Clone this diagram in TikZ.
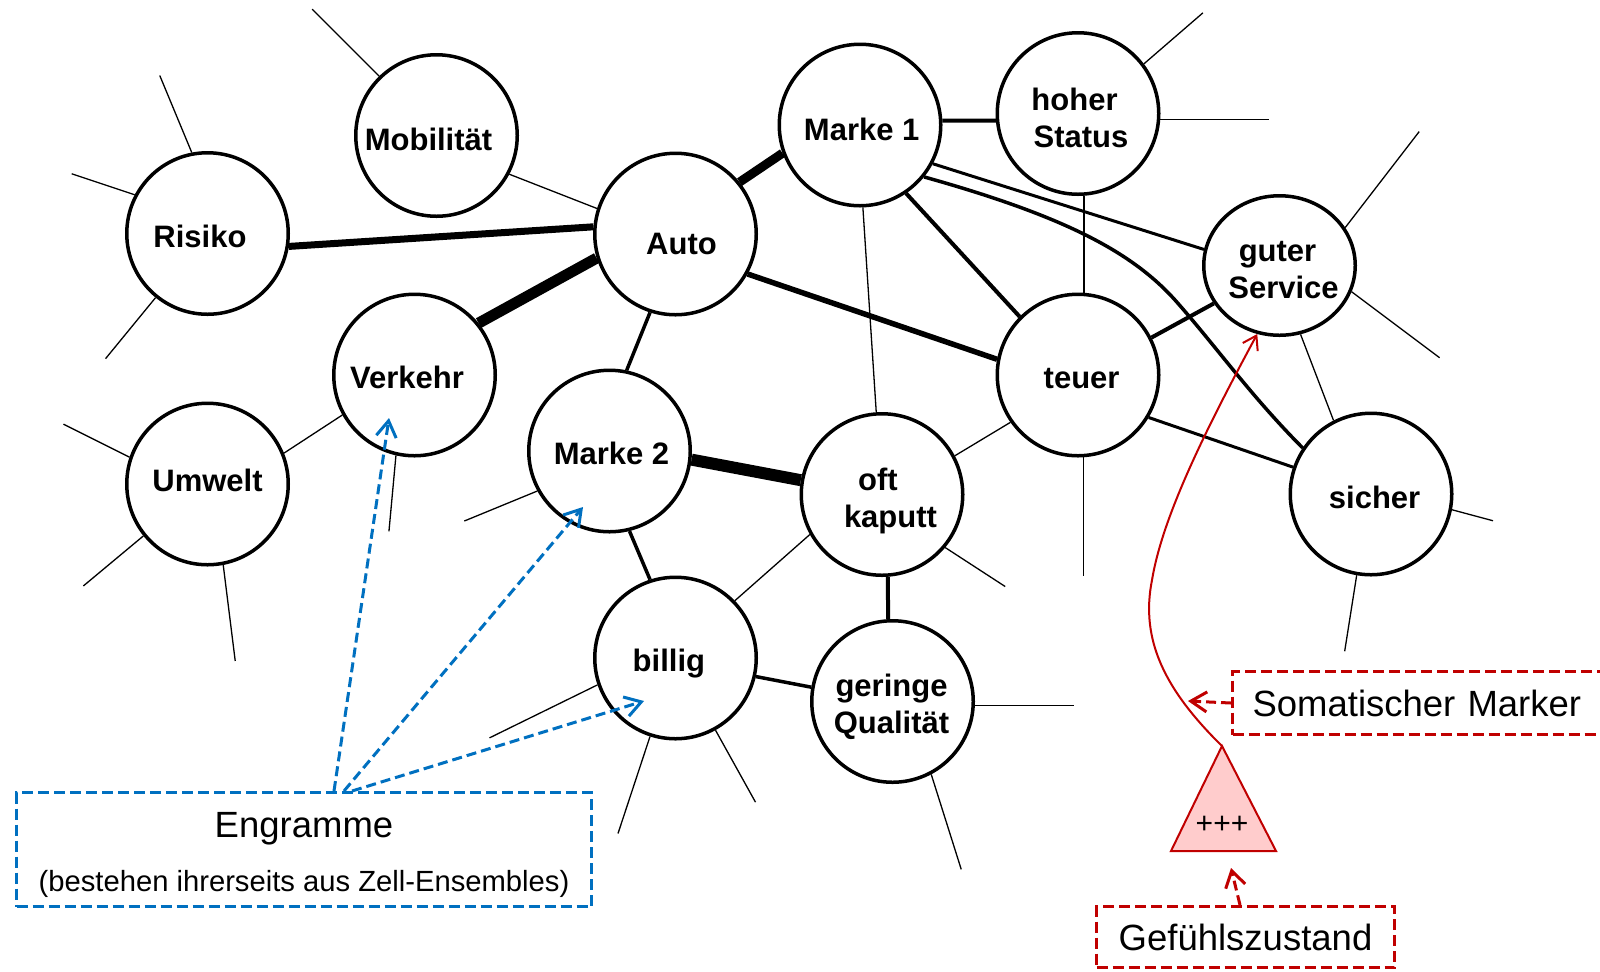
\documentclass[tikz,border=0pt]{standalone}
\usepackage{fontspec}
\setmainfont{Liberation Sans}
\usetikzlibrary{arrows.meta,shapes.geometric}
\newdimen\pu \pu=0.5pt
% label set on a zero-size box: #1 horizontal shift (half), #2 baseline below centre
\newcommand\ntext[3]{\raisebox{-#2}[0pt][0pt]{\makebox[0pt]{\hspace*{#1}\hspace*{#1}#3}}}
\definecolor{engblue}{HTML}{0070C0}
\definecolor{smred}{HTML}{C00000}
\definecolor{smpink}{HTML}{FFCCCC}
\begin{document}
\begin{tikzpicture}[x=0.5pt,y=-0.5pt,
  concept/.style={circle, draw, line width=1.75pt, fill=white, minimum size=80.75pt,
    inner sep=0pt, font=\fontsize{15.5}{18.5}\selectfont\bfseries},
  conceptell/.style={ellipse, draw, line width=1.75pt, fill=white, minimum width=75.75pt,
    minimum height=69.75pt, inner sep=0pt, font=\fontsize{15.5}{18.5}\selectfont\bfseries},
  conn/.style={line width=#1},
  stub/.style={line width=0.65pt},
  engbox/.style={draw=engblue, line width=1.5pt, dash pattern=on 5.5pt off 2.5pt, inner sep=0pt},
  smbox/.style={draw=smred, line width=1.5pt, dash pattern=on 5.5pt off 2.5pt, inner sep=0pt,
    font=\fontsize{18.25}{22}\selectfont},
  engarrow/.style={draw=engblue, line width=1.5pt, dash pattern=on 5pt off 2.5pt,
    -{Straight Barb[length=8pt,width=10pt]}},
  smarrow/.style={draw=smred, line width=1.5pt, dash pattern=on 5pt off 2.5pt,
    -{Straight Barb[length=8pt,width=10pt]}},
  plaintext/.style={inner sep=0pt, anchor=base}
]
\useasboundingbox (0,0) rectangle (1600,971);
\clip (0,0) rectangle (1600,971);

% concepts
\node[concept] (risk)   at (207.5,233.5) {\ntext{-7.5\pu}{13.8\pu}{Risiko}};
\node[concept] (mob)    at (436.5,135.5) {\ntext{-8\pu}{14.5\pu}{Mobilität}};
\node[concept] (auto)   at (675.5,234)   {\ntext{6\pu}{20\pu}{Auto}};
\node[concept] (verk)   at (414.5,375)   {\ntext{-7.5\pu}{13.3\pu}{Verkehr}};
\node[concept] (umw)    at (207.5,484)   {\ntext{0pt}{7.7\pu}{Umwelt}};
\node[concept] (m2)     at (609.5,451)   {\ntext{2\pu}{13\pu}{Marke 2}};
\node[concept] (billig) at (675.5,658)   {\ntext{-6.6\pu}{13.5\pu}{billig}};
\node[concept] (m1)     at (860,125)     {\ntext{1.7\pu}{15\pu}{Marke 1}};
\node[concept] (hoher)  at (1078,113.5)  {\ntext{0pt}{33.5\pu}{\begin{tabular}[b]{@{}c@{}}\hspace*{-7\pu}hoher\\\hspace*{6\pu}Status\end{tabular}}};
\node[conceptell] (guter) at (1279.5,265.5) {\ntext{1\pu}{32.5\pu}{\begin{tabular}[b]{@{}c@{}}\hspace*{-6\pu}guter\\\hspace*{6\pu}Service\end{tabular}}};
\node[concept] (teuer)  at (1078,375)    {\ntext{3.6\pu}{13.3\pu}{teuer}};
\node[concept] (oft)    at (882,494.5)   {\ntext{2\pu}{32.5\pu}{\begin{tabular}[b]{@{}c@{}}\hspace*{-12\pu}oft\\\hspace*{13\pu}kaputt\end{tabular}}};
\node[concept] (sicher) at (1371,494)    {\ntext{3.6\pu}{14\pu}{sicher}};
\node[concept] (ger)    at (892.5,701.5) {\ntext{-1\pu}{31.5\pu}{\begin{tabular}[b]{@{}c@{}}geringe\\Qualität\end{tabular}}};

% associations
\draw[conn=3.5pt]  (risk.-9) -- (auto.175);
\draw[conn=5.5pt]  (verk.39) -- (auto.197);
\draw[conn=4.5pt]  (auto.39) -- (m1.200);
\draw[conn=2.75pt] (auto.-29) -- (teuer.169);
\draw[conn=1.75pt] (auto.252) -- (m2.78);
\draw[stub]        (mob.-28) -- (auto.162);
\draw[stub]        (verk.209) -- (umw.22);
\draw[conn=6pt]    (m2.-6) -- (oft.170);
\draw[conn=1.75pt] (m2.-76) -- (billig.108);
\draw[conn=1.75pt] (billig.-13) -- (ger.170);
\draw[conn=2pt]    (oft.-86) -- (ger.93.5);
\draw[stub]        (billig.44) -- (oft.209);
\draw[stub]        (teuer.215) -- (oft.28);
\draw[stub]        (m1.-88.6) -- (oft.94);
\draw[conn=2pt]    (m1.3.5) -- (hoher.185);
\draw[conn=2pt]    (m1.-56) -- (teuer.135.5);
\draw[conn=1.5pt]  (m1.-28) -- (guter.168);
\draw[conn=1.75pt] (m1.-39) .. controls (1060,215) and (1130,250) .. (1175,300)
                   .. controls (1215,345) and (1250,395) .. (sicher.146);
\draw[conn=1pt]    (hoher.-86.5) -- (teuer.86.5);
\draw[conn=2pt]    (teuer.27.5) -- (guter.210);
\draw[conn=1.5pt]  (teuer.-31) -- (sicher.161.6);
\draw[stub]        (guter.-73.5) -- (sicher.117.8);

% loose associations
\draw[stub] (mob.134.5) -- ++(-67,-67);
\draw[stub] (risk.101) -- ++(-32,-77);
\draw[stub] (risk.152) -- ++(-63,-21);
\draw[stub] (risk.231) -- ++(-50,61);
\draw[stub] (umw.161) -- ++(-66,-33);
\draw[stub] (umw.219.6) -- ++(-60,50);
\draw[stub] (umw.-79) -- ++(12,96);
\draw[stub] (verk.257) -- ++(-7,76);
\draw[stub] (m2.209) -- ++(-73,30);
\draw[stub] (billig.199) -- ++(-108,53);
\draw[stub] (billig.252) -- ++(-32,97);
\draw[stub] (billig.-61) -- ++(40,72);
\draw[stub] (oft.-40) -- ++(60,39);
\draw[stub] (ger.-3.5) -- ++(99,0);
\draw[stub] (ger.-62) -- ++(30,95);
\draw[stub] (teuer.-86) -- ++(0,119);
\draw[stub] (sicher.-11.4) -- ++(41,11);
\draw[stub] (sicher.260) -- ++(-12,76);
\draw[stub] (hoher.37.7) -- ++(59,-51);
\draw[stub] (hoher.-4) -- ++(109,0);
\draw[stub] (guter.30) -- ++(74,-96);
\draw[stub] (guter.-20) -- ++(88,66);

% engram legend
\node[engbox, minimum width=287.5pt, minimum height=57pt] (engr) at (304,849.5) {};
\node[plaintext, font=\fontsize{18.25}{22}\selectfont] (engr-title) at (304,837) {Engramme};
\node[plaintext, font=\fontsize{14.6}{17}\selectfont] (engr-sub) at (304,891.5) {(bestehen ihrerseits aus Zell-Ensembles)};
\draw[engarrow] ([xshift=15pt]engr.north) -- ([shift={(-25.5,43)}]verk.center);
\draw[engarrow] ([xshift=20pt]engr.north) -- ([shift={(-26.5,56)}]m2.center);
\draw[engarrow] ([xshift=24pt]engr.north) -- ([shift={(-31.5,43)}]billig.center);

% somatic marker
\coordinate (apex) at (1222,746);
\draw[smred, line width=1pt, fill=smpink, line join=miter] (apex) -- (1171,851) -- (1276,851) -- cycle;
\node[plaintext, font=\fontsize{15}{18}\selectfont] (plus) at (1222,833) {+++};
\draw[smred, line width=1pt, -{Straight Barb[length=6.5pt,width=8.5pt]}]
  (apex) .. controls (1165,690) and (1140,640) .. (1152,580)
         .. controls (1162,520) and (1200,440) .. (guter.252);

\node[smbox, anchor=west, minimum height=31.5pt, text width=190pt, inner xsep=10pt, align=left] (soma) at (1231,703) {Somatischer Marker};
\coordinate (smtip) at (1188,701);
\draw[smarrow] (soma.west) -- (smtip);

\node[smbox, minimum width=149pt, minimum height=30.5pt] (gef) at (1245.5,937) {Gefühlszustand};
\coordinate (geftip) at (1231,868);
\draw[smarrow] ([xshift=-2.75pt]gef.north) -- (geftip);
\end{tikzpicture}
\end{document}
